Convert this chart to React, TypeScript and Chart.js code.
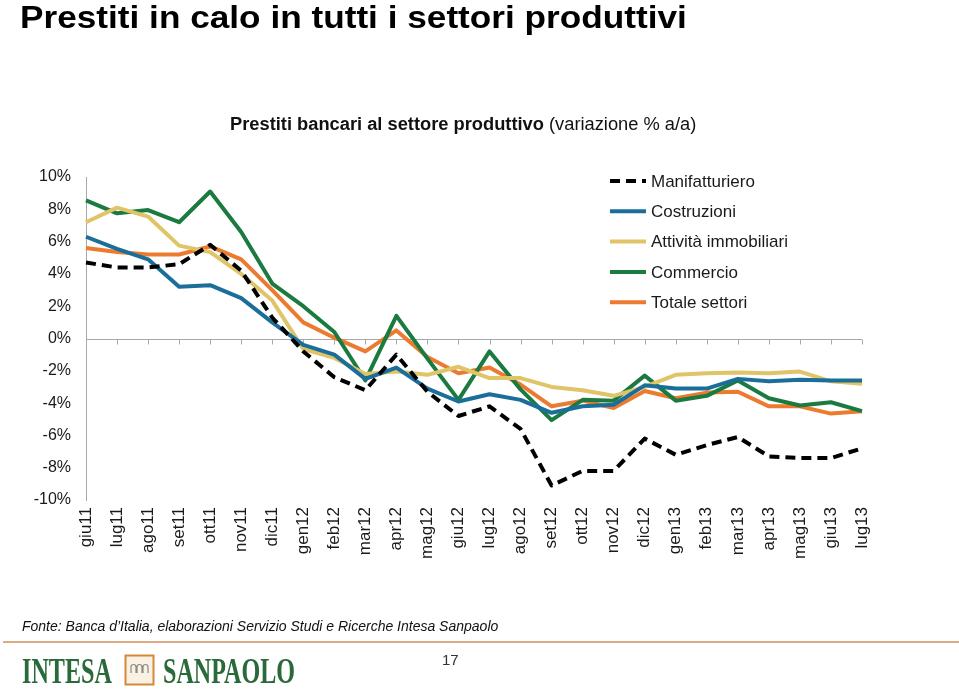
import React, { useEffect, useRef } from "react";
import { Chart, registerables } from "chart.js";

Chart.register(...registerables);

const categories = [
  "giu11", "lug11", "ago11", "set11", "ott11", "nov11", "dic11",
  "gen12", "feb12", "mar12", "apr12", "mag12", "giu12", "lug12", "ago12",
  "set12", "ott12", "nov12", "dic12", "gen13", "feb13", "mar13", "apr13",
  "mag13", "giu13", "lug13",
];

const manifatturiero = [4.7, 4.4, 4.4, 4.6, 5.8, 4.2, 1.3, -0.8, -2.4, -3.2, -1.0, -3.3, -4.8, -4.2, -5.6, -9.1, -8.2, -8.2, -6.2, -7.2, -6.6, -6.1, -7.3, -7.4, -7.4, -6.8];
const costruzioni = [6.3, 5.55, 4.9, 3.2, 3.3, 2.5, 1.0, -0.4, -1.0, -2.5, -1.8, -3.1, -3.9, -3.45, -3.8, -4.6, -4.2, -4.1, -2.9, -3.1, -3.1, -2.5, -2.65, -2.55, -2.6, -2.6];
const immobiliari = [7.2, 8.1, 7.55, 5.75, 5.35, 4.0, 2.35, -0.65, -1.2, -2.2, -2.05, -2.25, -1.75, -2.45, -2.45, -3.0, -3.2, -3.55, -3.0, -2.25, -2.15, -2.1, -2.15, -2.05, -2.65, -2.8];
const commercio = [8.55, 7.75, 7.95, 7.2, 9.1, 6.6, 3.4, 2.0, 0.4, -2.6, 1.4, -1.25, -3.8, -0.8, -3.15, -5.05, -3.8, -3.85, -2.3, -3.85, -3.55, -2.6, -3.7, -4.15, -3.95, -4.5];
const totale = [5.6, 5.35, 5.2, 5.2, 5.7, 4.9, 3.0, 1.0, 0.05, -0.8, 0.5, -1.15, -2.15, -1.8, -2.85, -4.2, -3.85, -4.3, -3.25, -3.7, -3.35, -3.3, -4.2, -4.2, -4.65, -4.5];

const seriesNames = ["Manifatturiero", "Costruzioni", "Attività immobiliari", "Commercio", "Totale settori"];
const yMin = -10;
const yMax = 10;
const yStep = 2;

const FONT = '"Liberation Sans", Arial, Helvetica, sans-serif';

const zeroLinePlugin = {
  id: "zeroLine",
  beforeDatasetsDraw(chart: any) {
    const { ctx, scales } = chart;
    const x = scales.x;
    const y = scales.y;
    const y0 = Math.round(y.getPixelForValue(0)) + 0.5;
    const x0 = x.getPixelForValue(0);
    const x1 = x.getPixelForValue(categories.length - 1);
    ctx.save();
    ctx.strokeStyle = "#a8a8a8";
    ctx.lineWidth = 1;
    ctx.beginPath();
    ctx.moveTo(x0, y0);
    ctx.lineTo(x1, y0);
    for (let i = 0; i < categories.length; i++) {
      const px = Math.round(x.getPixelForValue(i)) + 0.5;
      ctx.moveTo(px, y0);
      ctx.lineTo(px, y0 + 5);
    }
    ctx.stroke();
    ctx.restore();
  },
};

const legendPlugin = {
  id: "sideLegend",
  afterDraw(chart: any) {
    const ctx = chart.ctx;
    ctx.save();
    chart.data.datasets.forEach((ds: any, i: number) => {
      const yy = 181 + i * 30.3;
      ctx.strokeStyle = ds.borderColor;
      ctx.lineWidth = 4;
      ctx.setLineDash(ds.borderDash || []);
      ctx.beginPath();
      ctx.moveTo(610, yy);
      ctx.lineTo(646, yy);
      ctx.stroke();
      ctx.setLineDash([]);
      ctx.fillStyle = "#1a1a1a";
      ctx.font = `17px ${FONT}`;
      ctx.textBaseline = "middle";
      ctx.textAlign = "left";
      ctx.fillText(ds.label, 651, yy + 1);
    });
    ctx.restore();
  },
};

export default function App() {
  const canvasRef = useRef<HTMLCanvasElement | null>(null);

  useEffect(() => {
    const canvas = canvasRef.current;
    if (!canvas) return;
    const mk = (label: string, data: number[], color: string, dash?: number[]) => ({
      label,
      data,
      borderColor: color,
      backgroundColor: color,
      borderWidth: 4,
      pointRadius: 0,
      tension: 0,
      fill: false,
      borderDash: dash,
      borderJoinStyle: "round" as const,
      borderCapStyle: "butt" as const,
    });
    const chart = new Chart(canvas, {
      type: "line",
      data: {
        labels: categories,
        datasets: [
          mk(seriesNames[0], manifatturiero, "#000000", [10, 6]),
          mk(seriesNames[1], costruzioni, "#1b6e99"),
          mk(seriesNames[2], immobiliari, "#dfc468"),
          mk(seriesNames[3], commercio, "#1a7a3f"),
          mk(seriesNames[4], totale, "#ec7a2f"),
        ],
      },
      options: {
        animation: false,
        responsive: false,
        maintainAspectRatio: false,
        devicePixelRatio: 1,
        layout: { padding: { left: 0, right: 97, top: 177, bottom: 121 } },
        plugins: { legend: { display: false }, tooltip: { enabled: false }, title: { display: false } },
        scales: {
          x: {
            type: "category",
            offset: false,
            grid: { display: false, drawTicks: false },
            border: { display: false },
            ticks: {
              autoSkip: false,
              maxRotation: 90,
              minRotation: 90,
              padding: 7,
              color: "#1a1a1a",
              font: { family: FONT, size: 17 },
            },
            afterFit: (s: any) => { s.height = 70; },
          },
          y: {
            min: yMin,
            max: yMax,
            grid: { display: true, drawOnChartArea: false, drawTicks: false },
            border: { display: true, color: "#a8a8a8", width: 1 },
            ticks: {
              stepSize: yStep,
              padding: 15,
              color: "#1a1a1a",
              font: { family: FONT, size: 16 },
              callback: (v: any) => `${v}%`,
            },
            afterFit: (s: any) => { s.width = 86; },
          },
        },
      },
      plugins: [zeroLinePlugin, legendPlugin],
    });
    return () => chart.destroy();
  }, []);

  return (
    <div
      style={{
        position: "absolute",
        left: 0,
        top: 0,
        width: 959,
        height: 691,
        background: "#ffffff",
        fontFamily: FONT,
        overflow: "hidden",
        color: "#000",
      }}
    >
      <canvas
        ref={canvasRef}
        width={959}
        height={691}
        style={{ position: "absolute", left: 0, top: 0, width: 959, height: 691 }}
      />
      <div
        style={{
          position: "absolute",
          left: 20,
          top: 1,
          fontSize: 32,
          lineHeight: "32px",
          fontWeight: "bold",
          whiteSpace: "nowrap",
          transform: "scaleX(1.1)",
          transformOrigin: "left top",
        }}
      >
        Prestiti in calo in tutti i settori produttivi
      </div>
      <div
        style={{
          position: "absolute",
          left: 230,
          top: 115,
          fontSize: 18.3,
          lineHeight: "18.3px",
          whiteSpace: "nowrap",
          color: "#111",
        }}
      >
        <span style={{ fontWeight: "bold" }}>Prestiti bancari al settore produttivo</span>
        <span> (variazione % a/a)</span>
      </div>
      <div
        style={{
          position: "absolute",
          left: 22,
          top: 619,
          fontSize: 14,
          lineHeight: "14px",
          fontStyle: "italic",
          whiteSpace: "nowrap",
          color: "#111",
        }}
      >
        Fonte: Banca d’Italia, elaborazioni Servizio Studi e Ricerche Intesa Sanpaolo
      </div>
      <div
        style={{
          position: "absolute",
          left: 3,
          top: 641,
          width: 956,
          height: 2,
          background: "#dcab80",
        }}
      />
      <div
        style={{
          position: "absolute",
          left: 442,
          top: 652,
          fontSize: 15,
          lineHeight: "15px",
          color: "#333",
        }}
      >
        17
      </div>
      <svg
        width={320}
        height={51}
        style={{ position: "absolute", left: 0, top: 640 }}
      >
        <text
          x={22}
          y={43}
          fontFamily='"Liberation Serif", "DejaVu Serif", serif'
          fontSize={36}
          fontWeight="bold"
          fill="#2a6a3a"
          textLength={90}
          lengthAdjust="spacingAndGlyphs"
        >
          INTESA
        </text>
        <rect x={125.5} y={15.5} width={28} height={29} fill="#f8f1e4" stroke="#d4893a" strokeWidth={2} />
        <path
          d="M131 33 V27 a2.5 2.5 0 0 1 5 0 V33 M137 33 V27 a2.5 2.5 0 0 1 5 0 V33 M143 33 V27 a2.5 2.5 0 0 1 5 0 V33"
          fill="none"
          stroke="#8a8a80"
          strokeWidth={1.2}
        />
        <text
          x={163}
          y={43}
          fontFamily='"Liberation Serif", "DejaVu Serif", serif'
          fontSize={36}
          fontWeight="bold"
          fill="#2a6a3a"
          textLength={132}
          lengthAdjust="spacingAndGlyphs"
        >
          SANPAOLO
        </text>
      </svg>
    </div>
  );
}
